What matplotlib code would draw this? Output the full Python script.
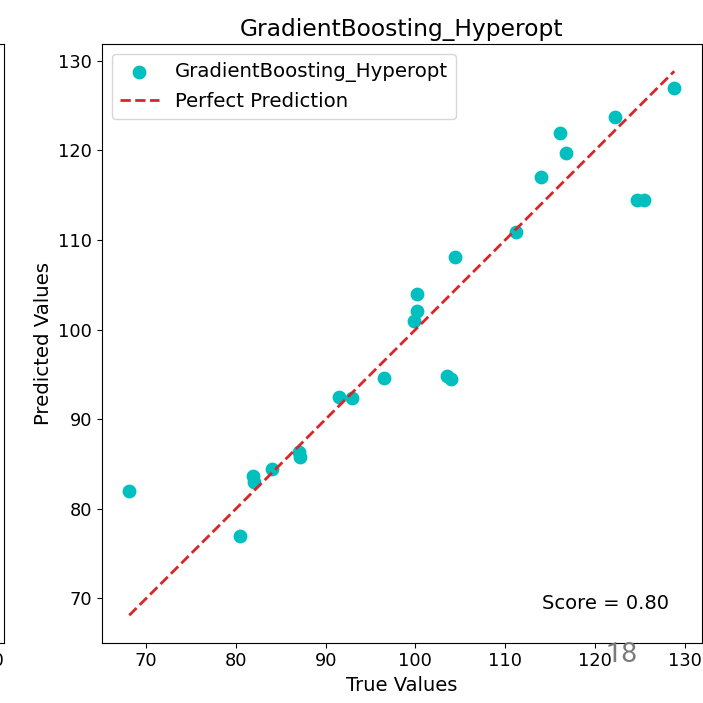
import numpy as np
import matplotlib
matplotlib.use("Agg")
import matplotlib.pyplot as plt

model_name = "GradientBoosting_Hyperopt"
score = 0.80

y_true = [68.1, 80.5, 81.9, 82.0, 84.0, 87.06, 87.13, 91.5, 92.9, 96.5,
          99.8, 100.16, 100.23, 103.5, 103.96, 104.4, 111.2, 114.0,
          116.16, 116.8, 122.2, 124.7, 125.5, 128.85]
y_pred = [82.0, 77.0, 83.6, 83.0, 84.4, 86.3, 85.8, 92.5, 92.4, 94.6,
          101.0, 102.1, 103.95, 94.8, 94.5, 108.05, 110.85, 117.05,
          121.9, 119.7, 123.7, 114.5, 114.5, 127.0]

x_ticks = [70, 80, 90, 100, 110, 120, 130]
y_ticks = [70, 80, 90, 100, 110, 120, 130]


def plot_chart() -> None:
    fig = plt.figure(figsize=(7.03, 7.03), dpi=100)
    W = 703.0

    lo = min(min(y_true), min(y_pred))
    hi = max(max(y_true), max(y_pred))
    pad = 0.05 * (hi - lo)

    # edge of the neighbouring subplot, cut off by the screenshot
    ax0 = fig.add_axes([(4 - 599.5) / W, 1 - 642.5 / W, 599.5 / W, 598.5 / W])
    ax0.set_xlim(lo - pad, hi + pad)
    ax0.set_xticks([130])
    ax0.set_yticks([])
    ax0.tick_params(labelsize=12.8)

    ax = fig.add_axes([102 / W, 1 - 642.5 / W, 599.5 / W, 598.5 / W])
    ax.scatter(y_true, y_pred, color="c", s=80, label=model_name, zorder=2)
    ax.plot([min(y_true), max(y_true)], [min(y_true), max(y_true)],
            "--", color="#d62728", lw=2, label="Perfect Prediction", zorder=3)
    ax.set_xlim(lo - pad, hi + pad)
    ax.set_ylim(lo - pad, hi + pad)
    ax.set_xticks(x_ticks)
    ax.set_yticks(y_ticks)
    ax.tick_params(labelsize=12.8)
    ax.set_title(model_name, fontsize=16.8)
    ax.set_xlabel("True Values", fontsize=14)
    ax.set_ylabel("Predicted Values", fontsize=14.2)
    ax.legend(loc="upper left", fontsize=14.2)
    ax.text(0.945, 0.05, f"Score = {score:.2f}", transform=ax.transAxes,
            ha="right", va="bottom", fontsize=14)

    # slide page number overlaid on the screenshot
    fig.text(622 / W, 1 - 662 / W, "18", fontsize=20.5, color="#7a7a7a",
             family=["Roboto", "DejaVu Sans"], ha="center", va="baseline",
             zorder=10)

    fig.savefig("out.png", dpi=100)


if __name__ == "__main__":
    plot_chart()
